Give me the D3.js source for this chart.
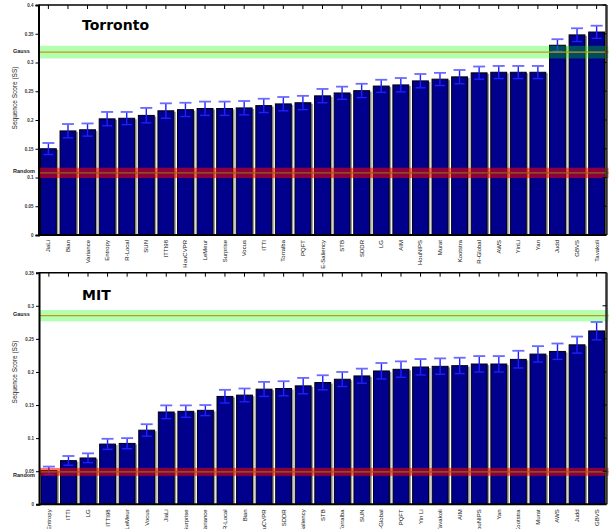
<!DOCTYPE html>
<html>
<head>
  <style>
    body, html { margin: 0; padding: 0; background: #fff; overflow: hidden; }
    svg { display: block; font-family: "Liberation Sans", Arial, sans-serif; }
  </style>
</head>
<body>
  <svg id="svg" width="610" height="529"></svg>
  <script src="https://d3js.org/d3.v7.min.js"></script>
  <script>
    // Torronto panel
    const torNames = ["JiaLi", "Bian", "Variance", "Entropy", "R-Local", "SUN", "ITTI98", "HouCVPR", "LeMeur",
      "Surprise", "Vocus", "ITTI", "Torralba", "PQFT", "E-Saliency", "STB", "SDDR", "LG", "AIM", "HouNIPS",
      "Murat", "Kootstra", "R-Global", "AWS", "YinLi", "Yan", "Judd", "GBVS", "Tavakoli"]
    const torScores = [0.150, 0.181, 0.183, 0.202, 0.203, 0.208, 0.216, 0.218, 0.220,
      0.220, 0.221, 0.225, 0.228, 0.230, 0.242, 0.247, 0.251, 0.259, 0.261, 0.268,
      0.271, 0.275, 0.282, 0.283, 0.283, 0.283, 0.330, 0.348, 0.353]
    const torErrors = [0.010, 0.012, 0.011, 0.012, 0.011, 0.013, 0.013, 0.012, 0.012,
      0.012, 0.012, 0.012, 0.012, 0.012, 0.012, 0.011, 0.012, 0.011, 0.012, 0.012,
      0.011, 0.012, 0.011, 0.011, 0.011, 0.011, 0.0105, 0.0115, 0.011]
    const torTicks = [0, 0.05, 0.1, 0.15, 0.2, 0.25, 0.3, 0.35, 0.4]
    const torGauss = 0.318
    const torRandom = 0.108

    // MIT panel
    const mitNames = ["Entropy", "ITTI", "LG", "ITTI98", "LeMeur", "Vocus", "JiaLi", "Surprise", "Variance",
      "R-Local", "Bian", "HouCVPR", "SDDR", "E-Saliency", "STB", "Torralba", "SUN", "R-Global", "PQFT",
      "Yin Li", "Tavakoli", "AIM", "HouNIPS", "Yan", "Kootstra", "Murat", "AWS", "Judd", "GBVS"]
    const mitScores = [0.051, 0.066, 0.070, 0.091, 0.092, 0.112, 0.1395, 0.1405, 0.142,
      0.163, 0.165, 0.174, 0.175, 0.179, 0.184, 0.189, 0.194, 0.2015, 0.204,
      0.2075, 0.2085, 0.2095, 0.212, 0.212, 0.219, 0.227, 0.231, 0.241, 0.262]
    const mitErrors = [0.006, 0.007, 0.007, 0.008, 0.008, 0.009, 0.010, 0.009, 0.008,
      0.010, 0.010, 0.011, 0.011, 0.012, 0.011, 0.011, 0.011, 0.012, 0.012,
      0.012, 0.012, 0.012, 0.012, 0.012, 0.013, 0.012, 0.012, 0.0125, 0.0135]
    const mitTicks = [0, 0.05, 0.1, 0.15, 0.2, 0.25, 0.3, 0.35]
    const mitGauss = 0.285
    const mitRandom = 0.049

    const svg = d3.select("#svg")

    function drawPanel(p) {
      const g = svg.append("g")

      const x = d3.scaleBand()
        .domain(p.names)
        .range([p.left, p.right])
        .paddingInner(0.19)
        .paddingOuter(0.1)

      const y = d3.scaleLinear()
        .domain([0, p.max])
        .range([p.bottom, p.top])

      // bar shadows, then bars
      g.selectAll(".shadow")
        .data(p.scores)
        .join("rect")
        .attr("x", (d, i) => x(p.names[i]) + 2)
        .attr("y", d => y(d) + 1)
        .attr("width", x.bandwidth())
        .attr("height", d => p.bottom - y(d) - 1)
        .attr("fill", "#9a9a9a")

      g.selectAll(".bar")
        .data(p.scores)
        .join("rect")
        .attr("x", (d, i) => x(p.names[i]))
        .attr("y", d => y(d))
        .attr("width", x.bandwidth())
        .attr("height", d => p.bottom - y(d))
        .attr("fill", "#00008c")
        .attr("stroke", "#000")
        .attr("stroke-width", 1)

      // error bars
      const cx = i => x(p.names[i]) + x.bandwidth() / 2
      const err = g.append("g")
        .attr("stroke", "#1f1fff")
        .attr("stroke-width", 1.4)
      p.scores.forEach((d, i) => {
        const lo = y(d - p.errors[i]), hi = y(d + p.errors[i])
        err.append("line").attr("x1", cx(i)).attr("x2", cx(i)).attr("y1", lo).attr("y2", hi)
        err.append("line").attr("x1", cx(i) - 6).attr("x2", cx(i) + 6).attr("y1", hi).attr("y2", hi)
          .attr("stroke", "#6a6aff").attr("stroke-width", 1.8)
        err.append("line").attr("x1", cx(i) - 5).attr("x2", cx(i) + 5).attr("y1", lo).attr("y2", lo)
      })

      // reference bands
      const bands = [
        { v: p.gauss, half: p.gaussHalf, fill: "#00ff00", op: 0.3, line: "#c09a10", label: "Gauss", dy: -1 },
        { v: p.random, half: p.randomHalf, fill: "#ff0000", op: 0.55, line: "#8a6a10", label: "Random", dy: p.randomDy }
      ]
      bands.forEach(b => {
        g.append("rect")
          .attr("x", p.left)
          .attr("width", p.right - p.left + 2)
          .attr("y", y(b.v + b.half))
          .attr("height", y(b.v - b.half) - y(b.v + b.half))
          .attr("fill", b.fill)
          .attr("fill-opacity", b.op)
        g.append("line")
          .attr("x1", p.left).attr("x2", p.right + 2)
          .attr("y1", y(b.v)).attr("y2", y(b.v))
          .attr("stroke", b.line).attr("stroke-width", 1.2)
        g.append("text")
          .attr("x", 13)
          .attr("y", y(b.v) + b.dy)
          .attr("dominant-baseline", "middle")
          .attr("font-size", 5.5)
          .attr("font-weight", "bold")
          .attr("fill", "#222")
          .text(b.label)
      })

      // frame: top, right, bottom
      g.append("line").attr("x1", p.left).attr("x2", p.right).attr("y1", p.top).attr("y2", p.top)
        .attr("stroke", "#000").attr("stroke-width", 1.5)
      g.append("line").attr("x1", p.right).attr("x2", p.right).attr("y1", p.top).attr("y2", p.bottom)
        .attr("stroke", "#333").attr("stroke-width", 2.5)
      g.append("line").attr("x1", p.left).attr("x2", p.right).attr("y1", p.bottom).attr("y2", p.bottom)
        .attr("stroke", "#000").attr("stroke-width", 2)

      // top tick marks at each bar
      g.selectAll(".ttick")
        .data(p.names)
        .join("line")
        .attr("x1", d => x(d) + x.bandwidth() / 2)
        .attr("x2", d => x(d) + x.bandwidth() / 2)
        .attr("y1", p.top)
        .attr("y2", p.top + 4)
        .attr("stroke", "#000")
        .attr("stroke-width", 1)

      // right ticks
      g.selectAll(".rtick")
        .data(p.ticks)
        .join("line")
        .attr("x1", p.right - 4).attr("x2", p.right)
        .attr("y1", d => y(d)).attr("y2", d => y(d))
        .attr("stroke", "#000")

      // left axis
      const yAxis = d3.axisLeft(y)
        .tickValues(p.ticks)
        .tickSize(3)
        .tickPadding(2)
        .tickFormat(d => String(+d.toFixed(2)))
      const ax = g.append("g")
        .attr("transform", `translate(${p.left},0)`)
        .call(yAxis)
      ax.select(".domain").attr("stroke-width", 2)
      ax.selectAll("text")
        .attr("font-size", 4.5)
        .attr("font-weight", "bold")
        .attr("fill", "#333")
        .attr("font-family", "Liberation Sans, Arial, sans-serif")

      // category labels
      g.selectAll(".cat")
        .data(p.names)
        .join("text")
        .attr("transform", d => `translate(${x(d) + x.bandwidth() / 2 + 2},${p.bottom + 5}) rotate(-90)`)
        .attr("text-anchor", "end")
        .attr("font-size", 6)
        .attr("fill", "#111")
        .text(d => d)

      // axis title
      g.append("text")
        .attr("transform", `translate(17,${p.titleY}) rotate(-90)`)
        .attr("text-anchor", "middle")
        .attr("font-size", 6.5)
        .attr("fill", "#222")
        .text("Sequence Score (SS)")

      // panel title
      g.append("text")
        .attr("x", 82)
        .attr("y", p.top + p.nameDy)
        .attr("font-size", 14)
        .attr("font-weight", "bold")
        .attr("font-family", "DejaVu Sans, Verdana, sans-serif")
        .text(p.name)
    }

    drawPanel({
      name: "Torronto", names: torNames, scores: torScores, errors: torErrors, ticks: torTicks,
      max: 0.4, gauss: torGauss, gaussHalf: 0.011, random: torRandom, randomHalf: 0.009, randomDy: -1.5,
      left: 38.5, right: 606.5, top: 5, bottom: 235, titleY: 98, nameDy: 25
    })

    drawPanel({
      name: "MIT", names: mitNames, scores: mitScores, errors: mitErrors, ticks: mitTicks,
      max: 0.35, gauss: mitGauss, gaussHalf: 0.0085, random: mitRandom, randomHalf: 0.006, randomDy: 3.5,
      left: 39, right: 606.5, top: 272.7, bottom: 504.3, titleY: 372, nameDy: 27
    })
  </script>
</body>
</html>
